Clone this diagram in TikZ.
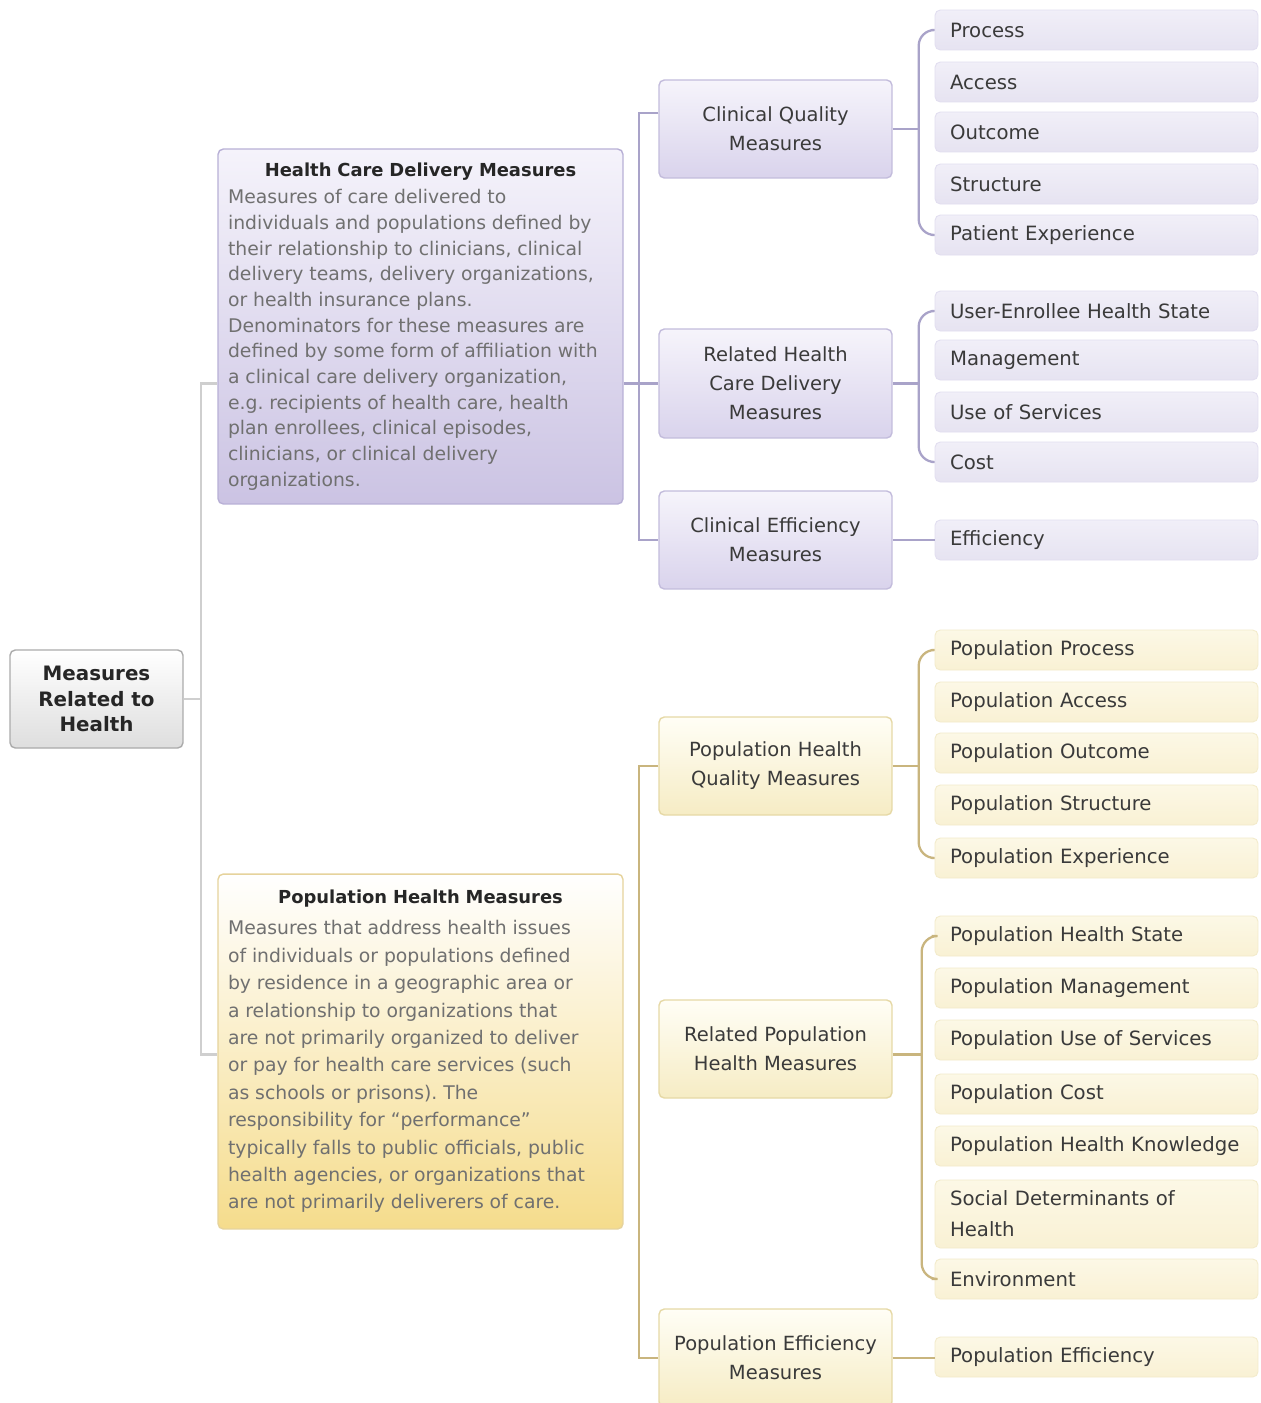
\documentclass[tikz,border=0pt]{standalone}
\usepackage{fontspec}
\setmainfont{DejaVu Sans}
\usepackage{tikz}
\usetikzlibrary{calc,positioning,shapes}
\hyphenpenalty=10000

\definecolor{pline}{HTML}{A9A3C9}
\definecolor{yline}{HTML}{C9B57E}
\definecolor{gline}{HTML}{CFCFCF}
\definecolor{desc}{HTML}{707070}
\definecolor{dark}{HTML}{262626}
\definecolor{leaftext}{HTML}{3A3A3A}
\definecolor{hcdline}{HTML}{B8B0D6}
\definecolor{hcdtop}{HTML}{F5F3FB}
\definecolor{hcdbot}{HTML}{CBC3E3}
\definecolor{phline}{HTML}{E6D39C}
\definecolor{phbot}{HTML}{F5DC8C}
\definecolor{pmidline}{HTML}{C3BCDC}
\definecolor{pmidtop}{HTML}{F6F4FB}
\definecolor{pmidbot}{HTML}{D9D3EC}
\definecolor{ymidline}{HTML}{E6D9A6}
\definecolor{ymidtop}{HTML}{FFFEF6}
\definecolor{ymidbot}{HTML}{F6ECC4}
\definecolor{pleafline}{HTML}{E2DEF0}
\definecolor{pleaftop}{HTML}{F1EFF8}
\definecolor{pleafbot}{HTML}{E6E3F1}
\definecolor{yleafline}{HTML}{F3EBCB}
\definecolor{yleaftop}{HTML}{FCF8E6}
\definecolor{yleafbot}{HTML}{F9F1D4}

\tikzset{
  box/.style={rectangle, rounded corners=3pt, line width=0.8pt},
  rootbox/.style={box, draw=black!33, top color=white, bottom color=black!13,
    minimum width=3.46cm, minimum height=1.96cm, align=center, text=dark,
    font=\fontsize{11.3}{14.7}\selectfont\bfseries},
  purplebig/.style={box, draw=hcdline, top color=hcdtop, bottom color=hcdbot},
  yellowbig/.style={box, draw=phline, top color=white, bottom color=phbot},
  bigbox/.style={text width=7.7cm, inner xsep=0.2cm, minimum height=7.1cm},
  midbox/.style={box, minimum width=4.66cm, minimum height=1.96cm, align=center, text=leaftext,
    font=\fontsize{11.1}{16.4}\selectfont},
  purplemid/.style={midbox, draw=pmidline, top color=pmidtop, bottom color=pmidbot},
  yellowmid/.style={midbox, draw=ymidline, top color=ymidtop, bottom color=ymidbot},
  leaf/.style={box, line width=0.5pt, text width=5.86cm, inner xsep=0.3cm, minimum height=0.8cm,
    align=left, text=leaftext, font=\fontsize{11.2}{17.5}\selectfont},
  purpleleaf/.style={leaf, draw=pleafline, top color=pleaftop, bottom color=pleafbot},
  yellowleaf/.style={leaf, draw=yleafline, top color=yleaftop, bottom color=yleafbot},
  pconn/.style={pline, line width=1.3pt},
  yconn/.style={yline, line width=1.3pt},
  gconn/.style={gline, line width=1.3pt}
}

\begin{document}
\begin{tikzpicture}[x=0.02cm, y=-0.02cm]
\useasboundingbox[fill=white] (0,0) rectangle (1261,1403);

\node[rootbox] (root) at (96.5,699) {Measures\\Related to\\Health};

\node[purplebig, bigbox] (hcd) at (420.5,326.5) {\frenchspacing\centering\fontsize{10.2}{14}\selectfont\bfseries\color{dark}Health Care Delivery Measures\par
\vspace{1pt}\raggedright\fontsize{10.7}{14.6}\selectfont\mdseries\color{desc}%
Measures of care delivered to\\
individuals and populations defined by\\
their relationship to clinicians, clinical\\
delivery teams, delivery organizations,\\
or health insurance plans.\\
Denominators for these measures are\\
defined by some form of affiliation with\\
a clinical care delivery organization,\\
e.g. recipients of health care, health\\
plan enrollees, clinical episodes,\\
clinicians, or clinical delivery\\
organizations.\par};

\node[yellowbig, bigbox] (ph) at (420.5,1051.5) {\frenchspacing\centering\fontsize{10.2}{14}\selectfont\bfseries\color{dark}Population Health Measures\par
\vspace{2pt}\raggedright\fontsize{10.7}{15.6}\selectfont\mdseries\color{desc}%
Measures that address health issues\\
of individuals or populations defined\\
by residence in a geographic area or\\
a relationship to organizations that\\
are not primarily organized to deliver\\
or pay for health care services (such\\
as schools or prisons). The\\
responsibility for “performance”\\
typically falls to public officials, public\\
health agencies, or organizations that\\
are not primarily deliverers of care.\par};

\node[purplemid] (cqm) at (775.5,129) {Clinical Quality\\Measures};
\node[purplemid, minimum height=2.18cm] (rhcd) at (775.5,383.5) {Related Health\\Care Delivery\\Measures};
\node[purplemid] (cem) at (775.5,540) {Clinical Efficiency\\Measures};
\node[yellowmid] (phq) at (775.5,766) {Population Health\\Quality Measures};
\node[yellowmid] (rph) at (775.5,1049) {Related Population\\Health Measures};
\node[yellowmid] (pem) at (775.5,1358) {Population Efficiency\\Measures};

\node[purpleleaf] (proc) at (1096.5,30) {Process};
\node[purpleleaf] (acc) at (1096.5,82) {Access};
\node[purpleleaf] (outc) at (1096.5,132) {Outcome};
\node[purpleleaf] (struc) at (1096.5,184) {Structure};
\node[purpleleaf] (pexp) at (1096.5,235) {Patient Experience};
\node[purpleleaf] (ues) at (1096.5,311) {User-Enrollee Health State};
\node[purpleleaf] (mgmt) at (1096.5,360) {Management};
\node[purpleleaf] (uos) at (1096.5,412) {Use of Services};
\node[purpleleaf] (cost) at (1096.5,462) {Cost};
\node[purpleleaf] (eff) at (1096.5,540) {Efficiency};

\node[yellowleaf] (pproc) at (1096.5,650) {Population Process};
\node[yellowleaf] (pacc) at (1096.5,702) {Population Access};
\node[yellowleaf] (pout) at (1096.5,753) {Population Outcome};
\node[yellowleaf] (pstr) at (1096.5,805) {Population Structure};
\node[yellowleaf] (ppex) at (1096.5,858) {Population Experience};
\node[yellowleaf] (phs) at (1096.5,936) {Population Health State};
\node[yellowleaf] (pmg) at (1096.5,988) {Population Management};
\node[yellowleaf] (puos) at (1096.5,1040) {Population Use of Services};
\node[yellowleaf] (pcost) at (1096.5,1094) {Population Cost};
\node[yellowleaf] (phk) at (1096.5,1146) {Population Health Knowledge};
\node[yellowleaf, minimum height=1.36cm] (sdh) at (1096.5,1214) {Social Determinants of\\Health};
\node[yellowleaf] (env) at (1096.5,1279) {Environment};
\node[yellowleaf] (peff) at (1096.5,1357) {Population Efficiency};

\coordinate (tr) at ($(root.east)+(17,0)$);
\draw[gconn] (root.east) -- (tr);
\draw[gconn] (hcd.west |- rhcd) -| (tr) |- ($(ph.west)+(0,3)$);

\draw[pconn] (hcd.east |- rhcd) -- (rhcd.west);
\draw[pconn] ($(cqm.west)+(0,-16)$) -| ($(hcd.east |- cem)+(15,0)$) -- (cem.west);
\draw[yconn] ($(ph.east)+(0,3)$) -- ($(ph.east)+(0,3)$ -| rph.west);
\draw[yconn] (phq.west) -| ($(ph.east |- pem)+(15,0)$) -- (pem.west);

\coordinate (b1) at ($(cqm.east)+(26,0)$);
\coordinate (b2) at ($(rhcd.east)+(26,0)$);
\coordinate (b3) at ($(phq.east)+(26,0)$);
\coordinate (b4) at ($(ph.east)+(298,3)$);
\draw[pconn] (cqm.east) -- (b1);
\draw[pconn, rounded corners=9] ($(proc.west)+(-3,0)$) -| (b1) |- ($(pexp.west)+(-3,0)$);
\draw[pconn] (rhcd.east) -- (b2);
\draw[pconn, rounded corners=9] ($(ues.west)+(-3,0)$) -| (b2) |- ($(cost.west)+(-3,0)$);
\draw[pconn] (cem.east) -- (eff.west);
\draw[yconn] (phq.east) -- (b3);
\draw[yconn, rounded corners=9] ($(pproc.west)+(-3,0)$) -| (b3) |- ($(ppex.west)+(-3,0)$);
\draw[yconn] (rph.east |- b4) -- (b4);
\draw[yconn, rounded corners=9] ($(phs.west)+(-3,0)$) -| (b4) |- ($(env.west)+(-3,0)$);
\draw[yconn] (pem.east) -- (pem.east -| peff.west);
\end{tikzpicture}
\end{document}
